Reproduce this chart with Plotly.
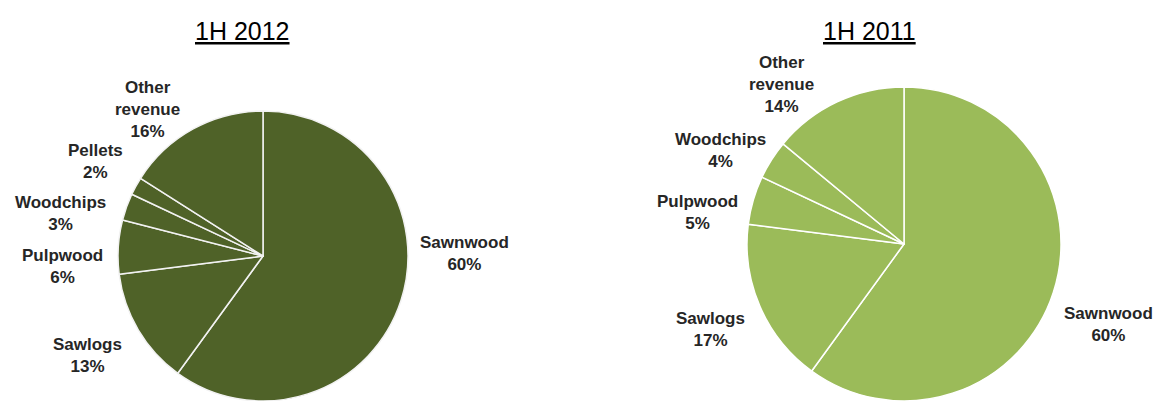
import plotly.graph_objects as go

W, H = 1154, 401

categories_2012 = ["Sawnwood", "Sawlogs", "Pulpwood", "Woodchips", "Pellets", "Other revenue"]
values_2012 = [60, 13, 6, 3, 2, 16]
categories_2011 = ["Sawnwood", "Sawlogs", "Pulpwood", "Woodchips", "Other revenue"]
values_2011 = [60, 17, 5, 4, 14]
titles = ["1H 2012", "1H 2011"]

# label text lines
label_text_2012 = ["Sawnwood", "Sawlogs", "Pulpwood", "Woodchips", "Pellets", "Other<br>revenue"]
label_text_2011 = ["Sawnwood", "Sawlogs", "Pulpwood", "Woodchips", "Other<br>revenue"]

# pixel positions for label centers (layout only)
label_pos_2012 = [(464, 253), (87, 355), (62, 266), (60, 214), (95, 161), (147, 109)]
label_pos_2011 = [(1108, 324), (710, 329), (697, 212), (721, 150), (781, 84)]


def px_domain(cx, cy, r):
    x0, x1 = (cx - r) / W, (cx + r) / W
    y0, y1 = 1 - (cy + r) / H, 1 - (cy - r) / H
    return dict(x=[x0, x1], y=[max(0, y0), min(1, y1)])


fig = go.Figure()
fig.add_trace(go.Pie(
    labels=categories_2012, values=values_2012, sort=False, direction="clockwise",
    rotation=0, textinfo="none", hoverinfo="label+percent",
    marker=dict(colors=["#4f6228"] * len(values_2012), line=dict(color="#f2f2f2", width=1.5)),
    domain=px_domain(263, 256, 145), showlegend=False,
))
fig.add_trace(go.Pie(
    labels=categories_2011, values=values_2011, sort=False, direction="clockwise",
    rotation=0, textinfo="none", hoverinfo="label+percent",
    marker=dict(colors=["#9bbb59"] * len(values_2011), line=dict(color="#ffffff", width=1.5)),
    domain=px_domain(904, 244, 157), showlegend=False,
))

annotations = []
label_font = dict(family="Liberation Sans, Arial, sans-serif", size=17, color="#262626")
for txts, vals, poss in [(label_text_2012, values_2012, label_pos_2012),
                         (label_text_2011, values_2011, label_pos_2011)]:
    total = sum(vals)
    for t, v, (x, y) in zip(txts, vals, poss):
        annotations.append(dict(
            text=f"<b>{t}<br>{round(100 * v / total)}%</b>",
            x=x / W, y=1 - y / H, xref="paper", yref="paper",
            xanchor="center", yanchor="middle", showarrow=False,
            font=label_font, align="center",
        ))

for t, x in zip(titles, [242, 869]):
    annotations.append(dict(
        text=f"<u>{t}</u>", x=x / W, y=1 - 31 / H, xref="paper", yref="paper",
        xanchor="center", yanchor="middle", showarrow=False,
        font=dict(family="Liberation Sans, Arial, sans-serif", size=25, color="#000000"),
    ))

fig.update_layout(
    width=W, height=H, margin=dict(l=0, r=0, t=0, b=0),
    paper_bgcolor="#ffffff", plot_bgcolor="#ffffff",
    annotations=annotations,
)

fig.write_html("out.html")
